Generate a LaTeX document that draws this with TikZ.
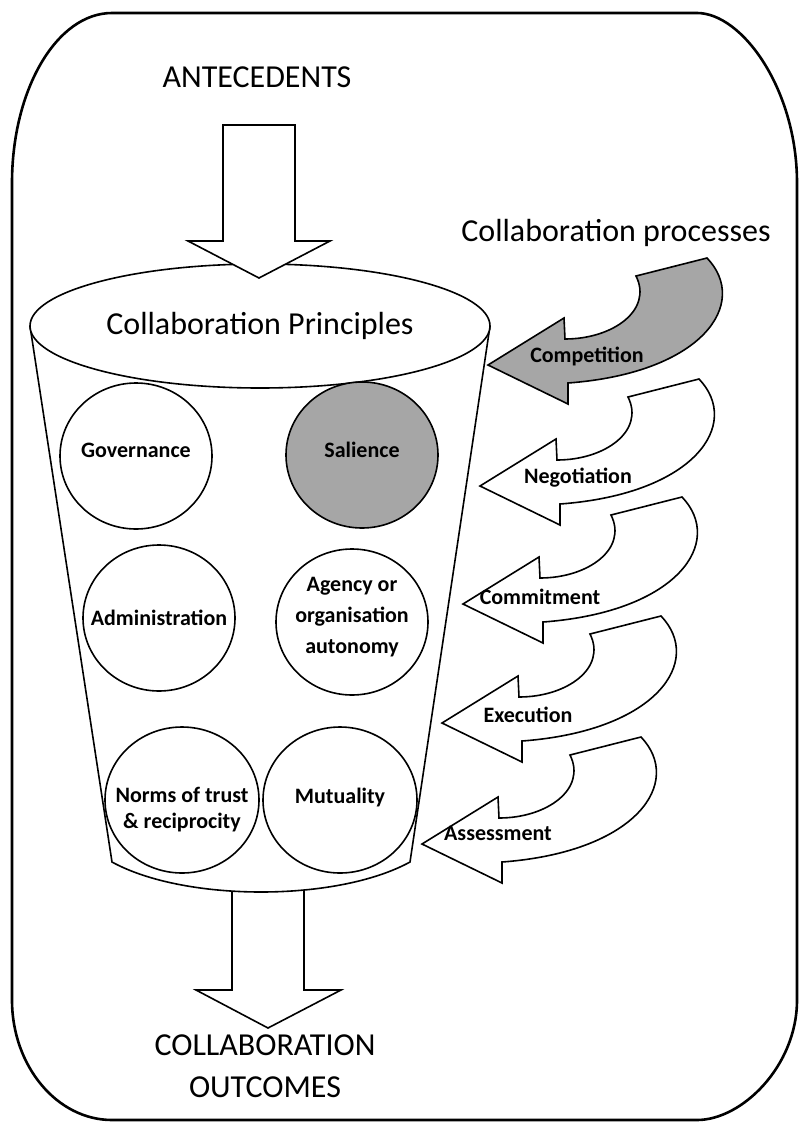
\documentclass[tikz,border=0pt]{standalone}
\usepackage{fontspec}
\setmainfont{Carlito}
\usetikzlibrary{shapes.geometric}

\definecolor{fillgray}{RGB}{166,166,166}

% curved process arrow, tip at (#1,#2)
\newcommand{\procarrow}[3]{%
  \draw[blockarrow, fill=#3, shift={(#1,#2)}]
    (0,0) -- (76,-47) -- (77,-26)
    .. controls (125,-26) and (165,-55) .. (148,-89)
    -- (219,-107)
    .. controls (262,-62) and (215,8) .. (80,18)
    -- (80,39) -- cycle;}

\begin{document}
\begin{tikzpicture}[x=0.5pt, y=-0.5pt,
    blockarrow/.style={draw, line width=0.8pt, fill=white, line join=miter},
    principle/.style={draw, ellipse, line width=0.8pt, fill=white,
        minimum width=76pt, minimum height=73pt, inner sep=0pt},
    principletext/.style={align=center, inner sep=0pt,
        font=\bfseries\fontsize{11}{15.5}\selectfont},
    heading/.style={font=\fontsize{16}{21}\selectfont, align=center},
    proclabel/.style={font=\bfseries\fontsize{11}{13}\selectfont}]

    \useasboundingbox (0,0) rectangle (803,1124);

    % ==========================================
    % OUTER FRAME
    % ==========================================
    \draw[line width=1.3pt] (12,183) .. controls (12,89) and (57,13) .. (112,13)
        -- (697,13) .. controls (742,13) and (797,89) .. (797,183)
        -- (797,1000) .. controls (797,1066) and (742,1120) .. (697,1120)
        -- (112,1120) .. controls (57,1120) and (12,1066) .. (12,1000) -- cycle;

    % ==========================================
    % CUP: Collaboration Principles
    % ==========================================

    % Outcome arrow (behind the cup)
    \draw[blockarrow] (232,880) -- (232,990) -- (196,990) -- (268,1028)
        -- (341,990) -- (304,990) -- (304,880);

    % Cup body
    \draw[line width=0.8pt, fill=white] (30,326) -- (112,862)
        .. controls (185,902) and (337,902) .. (410,862) -- (490,326);

    % Cup top
    \node[draw, ellipse, line width=0.8pt, fill=white, minimum width=230pt,
        minimum height=62pt, font=\fontsize{16}{20}\selectfont]
        (principles) at (260,326) {Collaboration Principles};

    % Antecedents arrow
    \draw[blockarrow] (223,125) -- (295,125) -- (295,241) -- (330,241)
        -- (259,278) -- (188,241) -- (223,241) -- cycle;

    % Principles (text set as centre labels so the circles keep their size)
    \node[principle, label={[principletext, yshift=3pt]center:Governance}]
        (governance) at (136,456) {};
    \node[principle, fill=fillgray, label={[principletext, yshift=2.5pt]center:Salience}]
        (salience) at (362,455) {};
    \node[principle, label={[principletext]center:Administration}]
        (administration) at (159,618) {};
    \node[principle, label={[principletext, yshift=2.5pt]center:Agency or\\organisation\\autonomy}]
        (agency) at (352,622) {};
    \node[principle, minimum width=77pt,
        label={[principletext, font=\bfseries\fontsize{11}{13}\selectfont, yshift=-5pt]center:Norms of trust\\\& reciprocity}]
        (norms) at (182,800) {};
    \node[principle, minimum width=77pt, label={[principletext, yshift=1.5pt]center:Mutuality}]
        (mutuality) at (340,800) {};

    % ==========================================
    % COLLABORATION PROCESSES
    % ==========================================
    \procarrow{488}{365}{fillgray}
    \procarrow{480}{486}{white}
    \procarrow{463}{604}{white}
    \procarrow{442}{723}{white}
    \procarrow{422}{844}{white}

    \node[proclabel] (competition) at (587,356) {Competition};
    \node[proclabel] (negotiation) at (578,478) {Negotiation};
    \node[proclabel] (commitment) at (540,597) {Commitment};
    \node[proclabel] (execution) at (528,715) {Execution};
    \node[proclabel] (assessment) at (498,833) {Assessment};

    % Headings
    \node[heading] (antecedents) at (257,77) {ANTECEDENTS};
    \node[heading] (processes) at (616,233) {Collaboration processes};
    \node[heading] (outcomes) at (265,1066) {COLLABORATION\\OUTCOMES};

\end{tikzpicture}
\end{document}
